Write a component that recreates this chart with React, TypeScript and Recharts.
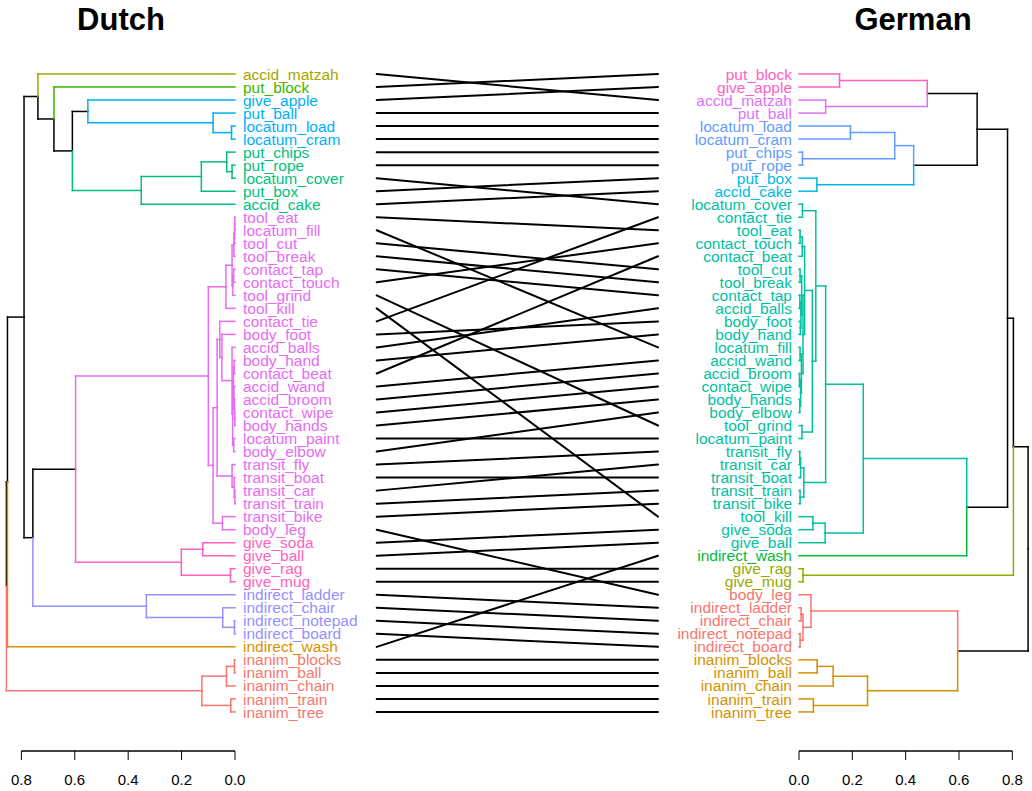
import React from "react";
import { ComposedChart, ReferenceLine, Scatter, XAxis, YAxis } from "recharts";

// merges: [node id, upper child, lower child, height]
const dutchMerges: [string, string, string, number][] = [
  ["g1", "locatum_load", "locatum_cram", 0.013],
  ["f1", "put_ball", "g1", 0.082],
  ["d1", "give_apple", "f1", 0.551],
  ["j1", "put_rope", "locatum_cover", 0.011],
  ["i1", "put_chips", "j1", 0.031],
  ["h1", "i1", "put_box", 0.126],
  ["e1", "h1", "accid_cake", 0.351],
  ["c1", "d1", "e1", 0.609],
  ["b1", "put_block", "c1", 0.678],
  ["a1", "accid_matzah", "b1", 0.738],
  ["m1", "tool_eat", "locatum_fill", 0.001],
  ["m2", "m1", "tool_cut", 0.002],
  ["m3", "m2", "tool_break", 0.004],
  ["m4", "contact_tap", "contact_touch", 0.005],
  ["m5", "m4", "tool_grind", 0.008],
  ["m6", "m3", "m5", 0.011],
  ["m7", "m6", "tool_kill", 0.034],
  ["m8", "body_hand", "contact_beat", 0.003],
  ["m9", "contact_wipe", "body_hands", 0.001],
  ["m10", "accid_broom", "m9", 0.002],
  ["m11", "accid_wand", "m10", 0.004],
  ["m12", "m8", "m11", 0.006],
  ["m13", "locatum_paint", "body_elbow", 0.005],
  ["m14", "m12", "m13", 0.009],
  ["m15", "accid_balls", "m14", 0.011],
  ["m16", "body_foot", "m15", 0.049],
  ["m17", "contact_tie", "m16", 0.057],
  ["m18", "transit_car", "transit_train", 0.001],
  ["m19", "transit_boat", "m18", 0.003],
  ["m20", "transit_fly", "m19", 0.011],
  ["m21", "m17", "m20", 0.067],
  ["m22", "transit_bike", "body_leg", 0.047],
  ["m23", "m21", "m22", 0.082],
  ["m24", "m7", "m23", 0.1],
  ["s1", "give_soda", "give_ball", 0.121],
  ["s2", "give_rag", "give_mug", 0.017],
  ["s3", "s1", "s2", 0.201],
  ["p1", "m24", "s3", 0.597],
  ["q2", "indirect_notepad", "indirect_board", 0.002],
  ["q1", "indirect_chair", "q2", 0.046],
  ["q0", "indirect_ladder", "q1", 0.332],
  ["L", "p1", "q0", 0.757],
  ["K", "a1", "L", 0.79],
  ["N1", "K", "indirect_wash", 0.852],
  ["t1a", "inanim_blocks", "inanim_ball", 0.002],
  ["t1", "t1a", "inanim_chain", 0.032],
  ["t2", "inanim_train", "inanim_tree", 0.016],
  ["T", "t1", "t2", 0.124],
  ["root", "N1", "T", 0.856],
];

const dutchClusters: string[][] = [
  ["accid_matzah"],
  ["put_block"],
  ["give_apple"],
  ["put_ball", "locatum_load", "locatum_cram"],
  ["put_chips", "put_rope", "locatum_cover", "put_box", "accid_cake"],
  ["tool_eat", "locatum_fill", "tool_cut", "tool_break", "contact_tap", "contact_touch", "tool_grind", "tool_kill",
    "contact_tie", "body_foot", "accid_balls", "body_hand", "contact_beat", "accid_wand", "accid_broom", "contact_wipe",
    "body_hands", "locatum_paint", "body_elbow", "transit_fly", "transit_boat", "transit_car", "transit_train",
    "transit_bike", "body_leg"],
  ["give_soda", "give_ball", "give_rag", "give_mug"],
  ["indirect_ladder", "indirect_chair", "indirect_notepad", "indirect_board"],
  ["indirect_wash"],
  ["inanim_blocks", "inanim_ball", "inanim_chain", "inanim_train", "inanim_tree"],
];
const dutchColors = ["#A3A500", "#39B600", "#00B0F6", "#00B0F6", "#00BF7D", "#E76BF3", "#FF62BC", "#9590FF", "#D89000", "#F8766D"];

const germanMerges: [string, string, string, number][] = [
  ["a", "put_block", "give_apple", 0.152],
  ["b", "accid_matzah", "put_ball", 0.1],
  ["c", "a", "b", 0.481],
  ["d", "locatum_load", "locatum_cram", 0.193],
  ["e", "put_chips", "put_rope", 0.013],
  ["f", "d", "e", 0.359],
  ["g", "put_box", "accid_cake", 0.067],
  ["h", "f", "g", 0.43],
  ["i", "c", "h", 0.668],
  ["q5", "locatum_cover", "contact_tie", 0.013],
  ["q9a", "tool_eat", "contact_touch", 0.004],
  ["q9", "q9a", "contact_beat", 0.012],
  ["q11a", "tool_cut", "tool_break", 0.004],
  ["q11b", "contact_tap", "accid_balls", 0.003],
  ["q11c", "body_foot", "body_hand", 0.005],
  ["q11d", "q11b", "q11c", 0.007],
  ["q11", "q11a", "q11d", 0.01],
  ["q12a", "locatum_fill", "accid_wand", 0.004],
  ["q12b", "accid_broom", "contact_wipe", 0.002],
  ["q12c", "body_hands", "body_elbow", 0.003],
  ["q12d", "q12b", "q12c", 0.006],
  ["q12", "q12a", "q12d", 0.009],
  ["q10", "q11", "q12", 0.015],
  ["q7", "q9", "q10", 0.021],
  ["q8", "tool_grind", "locatum_paint", 0.011],
  ["q6", "q7", "q8", 0.05],
  ["q3", "q5", "q6", 0.063],
  ["q4a", "transit_fly", "transit_car", 0.003],
  ["q4b", "q4a", "transit_boat", 0.006],
  ["q4c", "transit_train", "transit_bike", 0.004],
  ["q4", "q4b", "q4c", 0.018],
  ["q1", "q3", "q4", 0.1],
  ["q2a", "tool_kill", "give_soda", 0.052],
  ["q2", "q2a", "give_ball", 0.098],
  ["q", "q1", "q2", 0.241],
  ["k", "q", "indirect_wash", 0.629],
  ["j", "i", "k", 0.782],
  ["m", "give_rag", "give_mug", 0.015],
  ["l", "j", "m", 0.804],
  ["o2", "indirect_ladder", "indirect_chair", 0.008],
  ["o3", "indirect_notepad", "indirect_board", 0.004],
  ["o1", "o2", "o3", 0.015],
  ["o", "body_leg", "o1", 0.045],
  ["p1a", "inanim_blocks", "inanim_ball", 0.068],
  ["p1", "p1a", "inanim_chain", 0.128],
  ["p2", "inanim_train", "inanim_tree", 0.054],
  ["p", "p1", "p2", 0.257],
  ["n", "o", "p", 0.595],
  ["root", "l", "n", 0.859],
];

const germanClusters: string[][] = [
  ["put_block", "give_apple"],
  ["accid_matzah", "put_ball"],
  ["locatum_load", "locatum_cram", "put_chips", "put_rope"],
  ["put_box", "accid_cake"],
  ["locatum_cover", "contact_tie", "tool_eat", "contact_touch", "contact_beat", "tool_cut", "tool_break", "contact_tap",
    "accid_balls", "body_foot", "body_hand", "locatum_fill", "accid_wand", "accid_broom", "contact_wipe", "body_hands",
    "body_elbow", "tool_grind", "locatum_paint", "transit_fly", "transit_car", "transit_boat", "transit_train",
    "transit_bike", "tool_kill", "give_soda", "give_ball"],
  ["indirect_wash"],
  ["give_rag", "give_mug"],
  ["body_leg", "indirect_ladder", "indirect_chair", "indirect_notepad", "indirect_board"],
  ["inanim_blocks", "inanim_ball", "inanim_chain", "inanim_train", "inanim_tree"],
];
const germanColors = ["#FF61C3", "#DB72FB", "#619CFF", "#00B9E3", "#00C19F", "#00BA38", "#93AA00", "#F8766D", "#D39200"];

const axisTicks = [0, 0.2, 0.4, 0.6, 0.8];

type Seg = { x1: number; y1: number; x2: number; y2: number; color: string };
type Leaf = { x: number; y: number; label: string; color: string };

function buildTree(merges: [string, string, string, number][], clusters: string[][], colors: string[]) {
  const byId = new Map(merges.map((m) => [m[0], m]));
  const clusterOf = new Map<string, number>();
  clusters.forEach((c, i) => c.forEach((l) => clusterOf.set(l, i)));
  const leaves: Leaf[] = [];
  const segs: Seg[] = [];
  type Node = { x: number; y: number; color: string };

  const walk = (id: string): Node & { cl: Set<number> } => {
    const m = byId.get(id);
    if (!m) {
      const ci = clusterOf.get(id)!;
      const node = { x: 0, y: leaves.length + 1, color: colors[ci], cl: new Set([ci]) };
      leaves.push({ x: 0, y: node.y, label: id, color: colors[ci] });
      return node;
    }
    const a = walk(m[1]);
    const b = walk(m[2]);
    const y = (a.y + b.y) / 2;
    for (const c of [a, b]) {
      segs.push({ x1: c.x, y1: c.y, x2: m[3], y2: c.y, color: c.color });
      segs.push({ x1: m[3], y1: c.y, x2: m[3], y2: y, color: c.color });
    }
    const cl = new Set([...a.cl, ...b.cl]);
    const color = cl.size === 1 ? colors[[...cl][0]] : "#000000";
    return { x: m[3], y, color, cl };
  };
  walk(merges[merges.length - 1][0]);
  // black edges underneath coloured ones
  segs.sort((p, q) => (p.color === "#000000" ? 0 : 1) - (q.color === "#000000" ? 0 : 1));
  return { leaves, segs };
}

const dutch = buildTree(dutchMerges, dutchClusters, dutchColors);
const german = buildTree(germanMerges, germanClusters, germanColors);
const links = dutch.leaves.map((l) => ({
  from: l.y,
  to: german.leaves.find((g) => g.label === l.label)!.y,
}));

const FONT = "'Liberation Sans', Arial, Helvetica, sans-serif";
const H = 791;
const M_TOP = 61;
const AX_H = 40;
const Y_DOMAIN: [number, number] = [0, 53];

function TreeChart({
  tree,
  side,
}: {
  tree: { leaves: Leaf[]; segs: Seg[] };
  side: "left" | "right";
}) {
  const left = side === "left";
  const width = left ? 370 : 372;
  const margin = left
    ? { top: M_TOP, right: 135, bottom: 0, left: 0 }
    : { top: M_TOP, right: 1, bottom: 0, left: 139 };
  const domain: [number, number] = left ? [0, 0.88] : [0, 0.87];
  const labelShape = (p: any) => (
    <text
      x={left ? p.cx + 8 : p.cx - 7}
      y={p.cy}
      dy="0.36em"
      textAnchor={left ? "start" : "end"}
      fontSize={15.5}
      fontFamily={FONT}
      fill={p.payload.color}
    >
      {p.payload.label}
    </text>
  );
  return (
    <ComposedChart width={width} height={H} margin={margin}>
      <XAxis
        type="number"
        dataKey="x"
        domain={domain}
        reversed={left}
        ticks={axisTicks}
        interval={0}
        axisLine={false}
        stroke="#000"
        tickSize={9}
        tickMargin={14}
        height={AX_H}
        fontSize={15}
        fontFamily={FONT}
        tick={{ fill: "#000", fontSize: 15, fontFamily: FONT }}
        tickFormatter={(v: number) => v.toFixed(1)}
      />
      <YAxis type="number" dataKey="y" domain={Y_DOMAIN} reversed hide />
      <ReferenceLine
        segment={[
          { x: 0, y: 53 },
          { x: 0.8, y: 53 },
        ]}
        stroke="#000"
        strokeWidth={1.3}
        ifOverflow="visible"
      />
      {tree.segs.map((s, i) => (
        <ReferenceLine
          key={i}
          segment={[
            { x: s.x1, y: s.y1 },
            { x: s.x2, y: s.y2 },
          ]}
          stroke={s.color}
          strokeWidth={1.5}
          strokeLinecap="square"
          ifOverflow="visible"
        />
      ))}
      <Scatter data={tree.leaves} shape={labelShape} isAnimationActive={false} />
    </ComposedChart>
  );
}

function LinkChart() {
  const ends = links.flatMap((l) => [
    { x: 0, y: l.from },
    { x: 1, y: l.to },
  ]);
  return (
    <ComposedChart width={300} height={H} margin={{ top: M_TOP, right: 12, bottom: AX_H, left: 6.7 }}>
      <XAxis type="number" dataKey="x" domain={[0, 1]} hide />
      <YAxis type="number" dataKey="y" domain={Y_DOMAIN} reversed hide />
      {links.map((l, i) => (
        <ReferenceLine
          key={i}
          segment={[
            { x: 0, y: l.from },
            { x: 1, y: l.to },
          ]}
          stroke="#000"
          strokeWidth={2}
          strokeLinecap="round"
          ifOverflow="visible"
        />
      ))}
      <Scatter data={ends} shape={() => <g />} isAnimationActive={false} />
    </ComposedChart>
  );
}

export default function App() {
  const title: React.CSSProperties = {
    position: "absolute",
    top: 0,
    fontFamily: FONT,
    fontWeight: "bold",
    fontSize: 31,
    lineHeight: "40px",
    transform: "translateX(-50%)",
    whiteSpace: "nowrap",
  };
  return (
    <div style={{ position: "absolute", left: 0, top: 0, width: 1032, height: H, background: "#fff" }}>
      <div style={{ ...title, left: 121 }}>Dutch</div>
      <div style={{ ...title, left: 913 }}>German</div>
      <div style={{ position: "absolute", left: 0, top: 0 }}>
        <TreeChart tree={dutch} side="left" />
      </div>
      <div style={{ position: "absolute", left: 370, top: 0 }}>
        <LinkChart />
      </div>
      <div style={{ position: "absolute", left: 660, top: 0 }}>
        <TreeChart tree={german} side="right" />
      </div>
    </div>
  );
}
